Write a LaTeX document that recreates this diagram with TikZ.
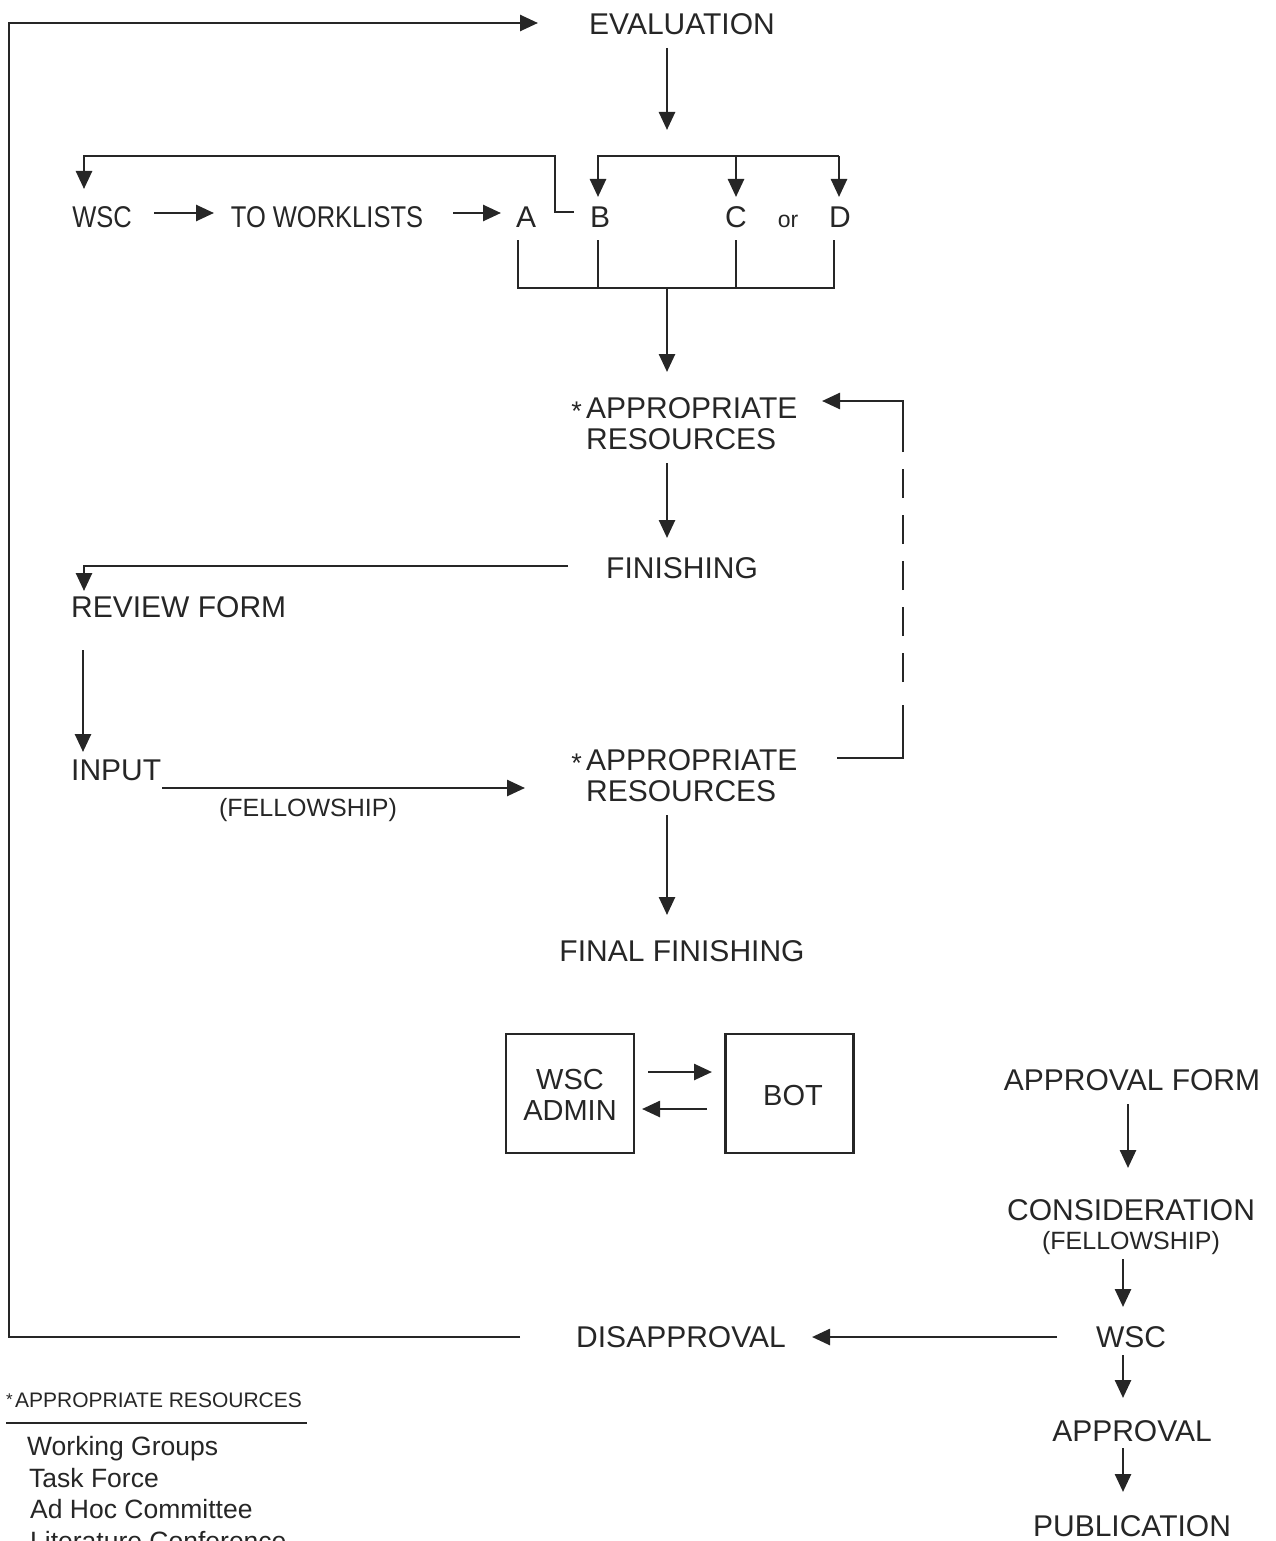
\documentclass[tikz,border=0pt]{standalone}
\usepackage{fontspec}
\setmainfont{Liberation Sans}
\usepackage{graphicx}
\usetikzlibrary{arrows.meta}
\definecolor{ink}{HTML}{262626}
\newcommand\cnd[1]{\scalebox{0.85}[1]{#1}}
\tikzset{
  ln/.style={line width=2.6pt, line join=miter},
  arr/.style={ln, -{Triangle[length=18pt,width=16pt]}},
  big/.style={font=\fontsize{30}{31}\selectfont, inner sep=0pt},
  mid/.style={font=\fontsize{29}{30}\selectfont, inner sep=0pt},
  sm/.style={font=\fontsize{25}{26}\selectfont, inner sep=0pt},
  ast/.style={font=\fontsize{27}{27}\selectfont, inner sep=0pt, anchor=base east},
  leg/.style={font=\fontsize{26.5}{27}\selectfont, inner sep=0pt, anchor=base west},
  boxed/.style={draw, ln, inner sep=0pt, minimum width=128pt, minimum height=119pt}
}
\begin{document}
\begin{tikzpicture}[x=1pt,y=-1pt,color=ink]
\useasboundingbox (0,0) rectangle (1276,1541);

% ---- top block
\node[big,anchor=base] (eval) at (682,35) {EVALUATION};
\node[big,anchor=base] (wsc1) at (102,227) {\cnd{WSC}};
\node[big,anchor=base] (twl) at (327,227) {\cnd{TO WORKLISTS}};
\node[big,anchor=base] (A) at (526,227) {A};
\node[big,anchor=base] (B) at (600,227) {B};
\node[big,anchor=base] (C) at (736,227) {C};
\node[font=\fontsize{23}{24}\selectfont,inner sep=0pt,anchor=base] (or) at (788,227) {or};
\node[big,anchor=base] (D) at (840,227) {D};

\draw[arr] (667,48) -- (667,130);
\draw[arr] (574,212) -- (555,212) -- (555,156) -- (84,156) -- (84,189);
\draw[arr] (839,156) -- (598,156) -- (598,197);
\draw[arr] (736,156) -- (736,197);
\draw[arr] (839,156) -- (839,197);
\draw[arr] (154,213) -- (214,213);
\draw[arr] (453,213) -- (501,213);
\draw[ln] (518,240) -- (518,288) -- (834,288) -- (834,240);
\draw[ln] (598,240) -- (598,288);
\draw[ln] (736,240) -- (736,288);
\draw[arr] (667,288) -- (667,372);

% ---- first resources
\node[ast] (ast1) at (582,420) {*};
\node[big,anchor=base west] (ar1) at (586,418) {APPROPRIATE};
\node[big,anchor=base west] (ar1b) at (586,449) {RESOURCES};
\draw[arr] (667,463) -- (667,538);
\node[big,anchor=base] (fin) at (682,578) {FINISHING};

\draw[arr] (568,566) -- (84,566) -- (84,591);
\node[big,anchor=base west] (rev) at (71,617) {REVIEW FORM};
\draw[arr] (83,650) -- (83,752);
\node[big,anchor=base west] (inp) at (71,780) {INPUT};
\draw[arr] (162,788) -- (525,788);
\node[sm,anchor=base] (fel1) at (308,816) {(FELLOWSHIP)};

% ---- second resources
\node[ast] (ast2) at (582,772) {*};
\node[big,anchor=base west] (ar2) at (586,770) {APPROPRIATE};
\node[big,anchor=base west] (ar2b) at (586,801) {RESOURCES};

% dashed feedback
\draw[ln] (837,758) -- (903,758) -- (903,705);
\draw[ln, dash pattern=on 29pt off 17pt] (903,682) -- (903,468);
\draw[arr] (903,452) -- (903,401) -- (822,401);

\draw[arr] (667,815) -- (667,915);
\node[big,anchor=base] (ff) at (682,961) {FINAL FINISHING};

% ---- boxes
\node[boxed] (adm) at (570,1093.5) {};
\node[boxed] (bot) at (789.5,1093.5) {};
\node[mid,anchor=base] (admt1) at (570,1089) {WSC};
\node[mid,anchor=base] (admt2) at (570,1120) {ADMIN};
\node[mid,anchor=base] (bott) at (793,1105) {BOT};
\draw[arr] (648,1072) -- (712,1072);
\draw[arr] (707,1109) -- (642,1109);

% ---- right column
\node[big,anchor=base] (apf) at (1132,1090) {APPROVAL FORM};
\draw[arr] (1128,1104) -- (1128,1168);
\node[big,anchor=base] (cons) at (1131,1220) {CONSIDERATION};
\node[sm,anchor=base] (fel2) at (1131,1249) {(FELLOWSHIP)};
\draw[arr] (1123,1259) -- (1123,1307);
\node[big,anchor=base] (wsc2) at (1131,1347) {WSC};
\draw[arr] (1123,1355) -- (1123,1398);
\node[big,anchor=base] (appr) at (1132,1441) {APPROVAL};
\draw[arr] (1123,1448) -- (1123,1492);
\node[big,anchor=base] (pub) at (1132,1536) {PUBLICATION};

\node[big,anchor=base] (dis) at (681,1347) {DISAPPROVAL};
\draw[arr] (1057,1337) -- (812,1337);
\draw[arr] (520,1337) -- (9,1337) -- (9,23) -- (538,23);

% ---- legend
\node[font=\fontsize{17}{17}\selectfont,inner sep=0pt,anchor=base west] (last) at (6,1405) {*};
\node[font=\fontsize{21}{22}\selectfont,inner sep=0pt,anchor=base west] (ltitle) at (15,1407) {APPROPRIATE RESOURCES};
\draw[line width=2pt] (6,1423) -- (307,1423);
\node[leg] (l1) at (27,1455) {Working Groups};
\node[leg] (l2) at (29,1487) {Task Force};
\node[leg] (l3) at (30,1518) {Ad Hoc Committee};
\node[leg] (l4) at (30,1550) {Literature Conference};
\end{tikzpicture}
\end{document}
